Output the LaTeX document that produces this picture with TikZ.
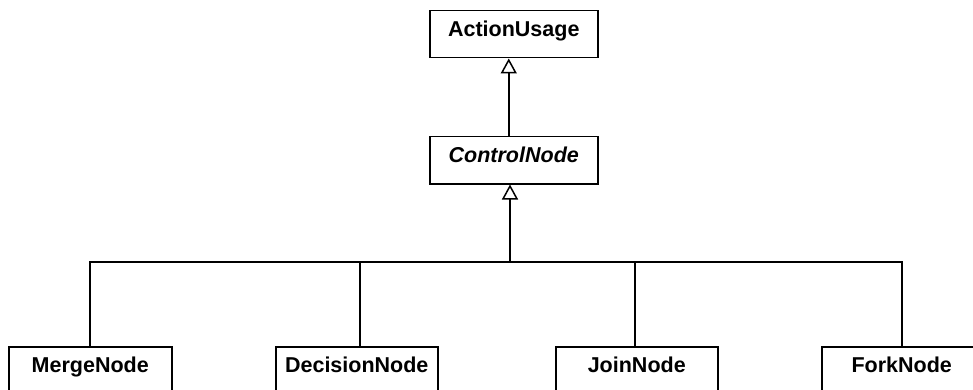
\documentclass[tikz,border=0pt]{standalone}
\usepackage{fontspec}
\setmainfont{Liberation Sans}
\usetikzlibrary{arrows.meta}
\begin{document}
\begin{tikzpicture}[x=1pt,y=-1pt,
  cls/.style={draw, line width=1.5pt, inner xsep=0pt, inner ysep=0pt, text height=26pt,
    font=\fontsize{21.5}{25}\selectfont\bfseries, anchor=north west},
  top/.style={cls, text depth=21pt},
  bot/.style={cls, text depth=60pt},
  conn/.style={line width=1.5pt},
  gen/.style={conn, -{Triangle[open, length=15pt, width=16pt, line width=1.5pt]}}]
\useasboundingbox (0,0) rectangle (973,390);
\node[top, minimum width=168pt] (au) at (429,10) {ActionUsage};
\node[top, minimum width=168pt] (cn) at (429,136) {\itshape ControlNode};
\node[bot, minimum width=163pt] (m) at (8,346) {MergeNode};
\node[bot, minimum width=162pt] (d) at (275,346) {DecisionNode};
\node[bot, minimum width=162pt] (j) at (555,346) {JoinNode};
\node[bot, minimum width=160pt] (f) at (821,346) {ForkNode};
\coordinate (bus) at (510,262);
\draw[gen] ([xshift=-5pt]cn.north) -- ([xshift=-5pt]au.south);
\draw[gen] (bus) -- (bus |- cn.south);
\draw[conn] ([xshift=-0.5pt]m.north) |- (f.north |- bus) -- (f.north);
\draw[conn] ([xshift=3pt]d.north) -- ([xshift=3pt]d.north |- bus);
\draw[conn] ([xshift=-2pt]j.north) -- ([xshift=-2pt]j.north |- bus);
\end{tikzpicture}
\end{document}
